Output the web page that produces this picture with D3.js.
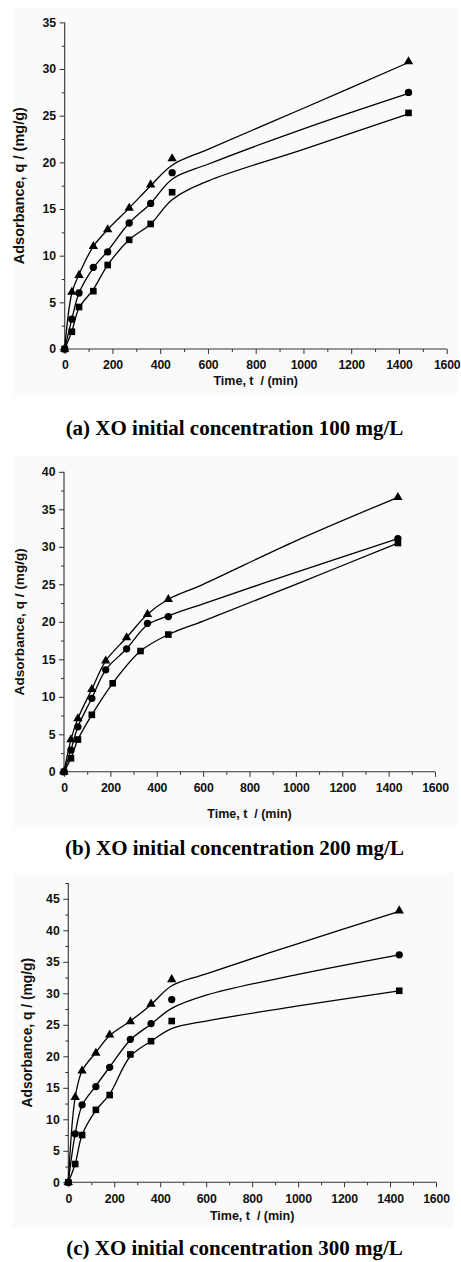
<!DOCTYPE html>
<html>
<head>
<meta charset="utf-8">
<script src="https://cdn.jsdelivr.net/npm/d3@7"></script>
<style>
  html, body { margin: 0; padding: 0; background: #fff; }
  svg { display: block; }
  .tick text { font-family: "Liberation Sans", Arial, sans-serif; font-weight: bold; fill: #111; }
  .axis path, .axis line { stroke: #333; }
</style>
</head>
<body>
<svg id="chart" width="461" height="1262"></svg>
<script>
// ---------- shared ----------
const pointTimes = [0, 30, 60, 120, 180, 270, 360, 450, 1440];
const fitTimes = [0, 30, 60, 120, 180, 270, 360, 450, 600, 1000, 1440];
const xTickLabels = [0, 200, 400, 600, 800, 1000, 1200, 1400, 1600];
const xMinorTicks = [100, 300, 500, 700, 900, 1100, 1300, 1500];
const xTitle = "Time, t  / (min)";
const yTitle = "Adsorbance, q / (mg/g)";

// ---------- panel (a): 100 mg/L ----------
const aTriangle = [0, 6.1, 7.9, 11.0, 12.8, 15.1, 17.6, 20.4, 30.8];
const aCircle   = [0, 3.2, 6.0, 8.75, 10.4, 13.5, 15.6, 18.9, 27.5];
const aSquare   = [0, 1.85, 4.5, 6.2, 9.0, 11.7, 13.4, 16.8, 25.3];
const aTriangleFit = [0, 6.0, 8.0, 11.0, 12.8, 15.1, 17.5, 19.7, 21.4, 25.8, 30.7];
const aCircleFit   = [0, 3.2, 6.0, 8.7, 10.5, 13.5, 15.6, 18.2, 19.8, 23.6, 27.4];
const aSquareFit   = [0, 1.9, 4.4, 6.4, 9.0, 11.7, 13.4, 16.0, 18.0, 21.4, 25.2];
const aYTicks = [0, 5, 10, 15, 20, 25, 30, 35];
const aYMinor = [2.5, 7.5, 12.5, 17.5, 22.5, 27.5, 32.5];
const aCaption = "(a) XO initial concentration 100 mg/L";

// ---------- panel (b): 200 mg/L ----------
const bTriangle = [0, 4.3, 7.1, 11.0, 14.8, 17.9, 21.0, 23.0, 36.6];
const bCircle   = [0, 2.9, 6.0, 9.8, 13.6, 16.4, 19.8, 20.7, 31.1];
const bSquareTimes = [0, 30, 60, 120, 210, 330, 450, 1440];
const bSquare   = [0, 1.8, 4.3, 7.6, 11.8, 16.1, 18.3, 30.5];
const bFitTimes = [0, 30, 60, 120, 180, 270, 360, 450, 600, 1000, 1440];
const bTriangleFit = [0, 4.3, 7.1, 11.0, 14.8, 17.9, 21.0, 23.0, 25.0, 30.8, 36.6];
const bCircleFit   = [0, 2.9, 6.0, 9.8, 13.6, 16.4, 19.6, 20.8, 22.4, 26.6, 31.1];
const bSquareFitTimes = [0, 30, 60, 120, 210, 330, 450, 600, 1000, 1440];
const bSquareFit   = [0, 1.8, 4.3, 7.6, 11.8, 16.1, 18.3, 20.1, 25.0, 30.5];
const bYTicks = [0, 5, 10, 15, 20, 25, 30, 35, 40];
const bYMinor = [2.5, 7.5, 12.5, 17.5, 22.5, 27.5, 32.5, 37.5];
const bCaption = "(b) XO initial concentration 200 mg/L";

// ---------- panel (c): 300 mg/L ----------
const cTriangle = [0, 13.5, 17.7, 20.5, 23.4, 25.5, 28.3, 32.2, 43.1];
const cCircle   = [0, 7.7, 12.3, 15.2, 18.25, 22.7, 25.2, 29.0, 36.1];
const cSquare   = [0, 2.9, 7.5, 11.5, 13.85, 20.3, 22.4, 25.6, 30.4];
const cTriangleFit = [0, 13.5, 17.7, 20.6, 23.3, 25.6, 28.2, 31.2, 33.1, 37.9, 43.0];
const cCircleFit   = [0, 7.7, 12.2, 15.3, 18.3, 22.6, 25.1, 27.6, 29.7, 33.0, 36.1];
const cSquareFit   = [0, 2.9, 7.5, 11.4, 14.0, 20.0, 22.4, 24.4, 25.6, 28.0, 30.4];
const cYTicks = [0, 5, 10, 15, 20, 25, 30, 35, 40, 45];
const cYMinor = [2.5, 7.5, 12.5, 17.5, 22.5, 27.5, 32.5, 37.5, 42.5, 47.5];
const cCaption = "(c) XO initial concentration 300 mg/L";

const zip = (t, v) => t.map((d, i) => ({ t: d, q: v[i] }));

const panels = [
  {
    box: { x: 14, y: 8, w: 443, h: 388 },
    xr: [64.7, 446.7], yr: [349, 22.4], yMax: 35,
    yTicks: aYTicks, yMinor: aYMinor, font: 12.3, yTitleSize: 14.5,
    yTitleX: 20, xTitleY: 382, captionY: 435,
    caption: aCaption,
    series: [
      { sym: d3.symbolTriangle, size: 38, pts: zip(pointTimes, aTriangle), fit: zip(fitTimes, aTriangleFit) },
      { sym: d3.symbolCircle,   size: 42, pts: zip(pointTimes, aCircle),   fit: zip(fitTimes, aCircleFit) },
      { sym: d3.symbolSquare,   size: 44, pts: zip(pointTimes, aSquare),   fit: zip(fitTimes, aSquareFit) }
    ]
  },
  {
    box: { x: 14, y: 456, w: 443, h: 372 },
    xr: [64, 435], yr: [771.8, 471.8], yMax: 40,
    yTicks: bYTicks, yMinor: bYMinor, font: 12.3, yTitleSize: 13.6,
    yTitleX: 20, xTitleY: 815, captionY: 855,
    caption: bCaption,
    series: [
      { sym: d3.symbolTriangle, size: 38, pts: zip(pointTimes, bTriangle), fit: zip(bFitTimes, bTriangleFit) },
      { sym: d3.symbolCircle,   size: 42, pts: zip(pointTimes, bCircle),   fit: zip(bFitTimes, bCircleFit) },
      { sym: d3.symbolSquare,   size: 44, pts: zip(bSquareTimes, bSquare), fit: zip(bSquareFitTimes, bSquareFit) }
    ]
  },
  {
    box: { x: 13, y: 873, w: 440, h: 355 },
    xr: [68.3, 436], yr: [1182.3, 898.8], yMax: 45, yTop: 47.5,
    yTicks: cYTicks, yMinor: cYMinor, font: 12.3, yTitleSize: 13.8,
    yTitleX: 28, xTitleY: 1217, captionY: 1255,
    caption: cCaption,
    series: [
      { sym: d3.symbolTriangle, size: 38, pts: zip(pointTimes, cTriangle), fit: zip(fitTimes, cTriangleFit) },
      { sym: d3.symbolCircle,   size: 42, pts: zip(pointTimes, cCircle),   fit: zip(fitTimes, cCircleFit) },
      { sym: d3.symbolSquare,   size: 44, pts: zip(pointTimes, cSquare),   fit: zip(fitTimes, cSquareFit) }
    ]
  }
];

const svg = d3.select("#chart");

panels.forEach(p => {
  const g = svg.append("g");
  g.append("rect").attr("x", p.box.x).attr("y", p.box.y).attr("width", p.box.w).attr("height", p.box.h)
    .attr("fill", "#fafafa");

  const x = d3.scaleLinear().domain([0, 1600]).range(p.xr);
  const y = d3.scaleLinear().domain([0, p.yMax]).range(p.yr);
  const yTop = p.yTop !== undefined ? p.yTop : p.yMax;

  // y axis
  const gy = g.append("g").attr("class", "axis").attr("transform", `translate(${p.xr[0]},0)`);
  gy.call(d3.axisLeft(y).tickValues(p.yTicks).tickFormat(d3.format("d")).tickSize(5).tickSizeOuter(0).tickPadding(3.5));
  gy.select(".domain").remove();
  gy.selectAll(".tick text").attr("font-size", p.font);
  const gym = g.append("g").attr("class", "axis").attr("transform", `translate(${p.xr[0]},0)`);
  gym.call(d3.axisLeft(y).tickValues(p.yMinor).tickSize(3).tickFormat(""));
  gym.select(".domain").remove();
  g.append("line").attr("x1", p.xr[0]).attr("x2", p.xr[0]).attr("y1", y(0)).attr("y2", y(yTop))
    .attr("stroke", "#333").attr("stroke-width", 1.1);

  // x axis
  const gx = g.append("g").attr("class", "axis").attr("transform", `translate(0,${p.yr[0]})`);
  gx.call(d3.axisBottom(x).tickValues(xTickLabels).tickFormat(d3.format("d")).tickSize(5).tickSizeOuter(0).tickPadding(6.5));
  gx.select(".domain").remove();
  gx.selectAll(".tick text").attr("font-size", p.font).attr("letter-spacing", "-0.2");
  const gxm = g.append("g").attr("class", "axis").attr("transform", `translate(0,${p.yr[0]})`);
  gxm.call(d3.axisBottom(x).tickValues(xMinorTicks).tickSize(3).tickFormat(""));
  gxm.select(".domain").remove();
  g.append("line").attr("x1", x(0)).attr("x2", x(1600)).attr("y1", y(0)).attr("y2", y(0))
    .attr("stroke", "#333").attr("stroke-width", 1.1);

  // titles
  g.append("text")
    .attr("x", (p.xr[0] + p.xr[1]) / 2).attr("y", p.xTitleY)
    .attr("text-anchor", "middle").attr("dominant-baseline", "middle")
    .attr("font-family", "Liberation Sans, Arial, sans-serif").attr("font-weight", "bold")
    .attr("font-size", 12.5).attr("fill", "#111")
    .attr("xml:space", "preserve")
    .text(xTitle);
  const yMid = (y(0) + y(yTop)) / 2;
  g.append("text")
    .attr("transform", `translate(${p.yTitleX},${yMid}) rotate(-90)`)
    .attr("text-anchor", "middle").attr("dominant-baseline", "middle")
    .attr("font-family", "Liberation Sans, Arial, sans-serif").attr("font-weight", "bold")
    .attr("font-size", p.yTitleSize).attr("fill", "#111")
    .text(yTitle);

  // fitted curves
  const line = d3.line().x(d => x(d.t)).y(d => y(d.q)).curve(d3.curveCatmullRom.alpha(0.5));
  p.series.forEach(s => {
    g.append("path").attr("d", line(s.fit)).attr("fill", "none")
      .attr("stroke", "#000").attr("stroke-width", 1.3);
  });
  // markers
  p.series.forEach(s => {
    g.selectAll(null).data(s.pts).enter().append("path")
      .attr("transform", d => `translate(${x(d.t)},${y(d.q)})`)
      .attr("d", d3.symbol().type(s.sym).size(s.size))
      .attr("fill", "#000");
  });

  // caption
  svg.append("text")
    .attr("x", 234.5).attr("y", p.captionY)
    .attr("text-anchor", "middle")
    .attr("font-family", "Liberation Serif, Times New Roman, serif").attr("font-weight", "bold")
    .attr("font-size", 21).attr("fill", "#000")
    .text(p.caption);
});
</script>
</body>
</html>
